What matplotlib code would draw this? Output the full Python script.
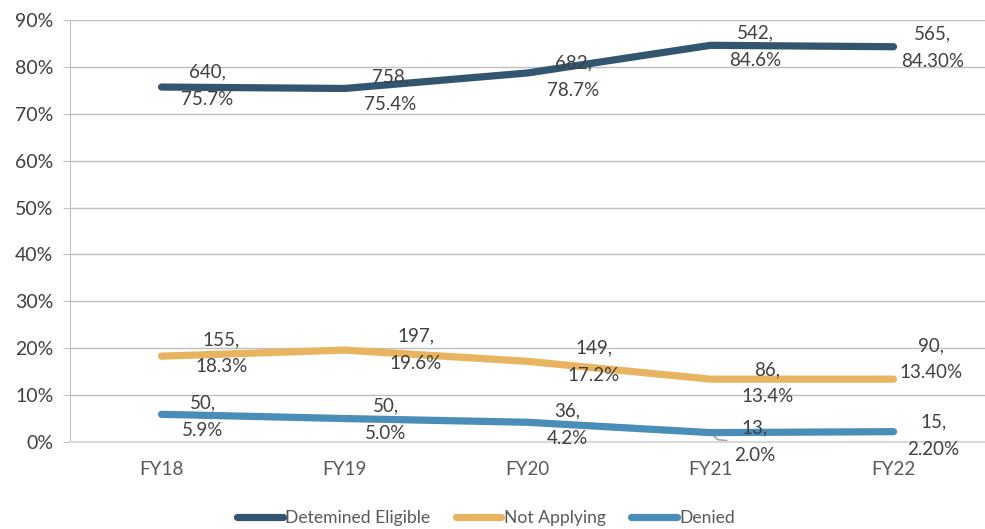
import matplotlib
matplotlib.use("Agg")
import matplotlib.pyplot as plt
from matplotlib.ticker import FuncFormatter

plt.rcParams['font.family'] = ['Lato', 'DejaVu Sans']

categories = ["FY18", "FY19", "FY20", "FY21", "FY22"]
series_names = ["Detemined Eligible", "Not Applying", "Denied"]
eligible_pct = [75.7, 75.4, 78.7, 84.6, 84.3]
not_applying_pct = [18.3, 19.6, 17.2, 13.4, 13.4]
denied_pct = [5.9, 5.0, 4.2, 2.0, 2.2]
eligible_labels = ["640,\n75.7%", "758,\n75.4%", "682,\n78.7%", "542,\n84.6%", "565,\n84.30%"]
not_applying_labels = ["155,\n18.3%", "197,\n19.6%", "149,\n17.2%", "86,\n13.4%", "90,\n13.40%"]
denied_labels = ["50,\n5.9%", "50,\n5.0%", "36,\n4.2%", "13,\n2.0%", "15,\n2.20%"]

colors = ["#325670", "#E8B460", "#4A8DB8"]

# label offsets in pixels (dx, dy) relative to each point
eligible_off = [(46, 1), (46, -2), (46, -4), (45, -1), (39, -1)]
not_applying_off = [(60, 3), (71, 0), (66, 0), (57, -4), (37, 20)]
denied_off = [(41, -2), (41, -1), (40, -2), (44, -9), (40, -4)]

fig = plt.figure(figsize=(9.85, 5.29), dpi=100)
ax = fig.add_axes([0.0711, 0.1645, 0.9289, 0.7977])

x = list(range(len(categories)))
all_vals = [eligible_pct, not_applying_pct, denied_pct]
all_labels = [eligible_labels, not_applying_labels, denied_labels]
all_offs = [eligible_off, not_applying_off, denied_off]

for name, vals, c in zip(series_names, all_vals, colors):
    ax.plot(x, vals, color=c, lw=5.2, solid_capstyle='round', solid_joinstyle='round', label=name, zorder=3)

for vals, labs, offs in zip(all_vals, all_labels, all_offs):
    for xi, v, lab, off in zip(x, vals, labs, offs):
        ax.annotate(lab, (xi, v), xytext=off, textcoords='offset pixels',
                    ha='center', va='center', fontsize=13.5, color='#404040',
                    linespacing=1.75, zorder=4)

ax.set_xlim(-0.5, 4.5)
ax.set_ylim(0, 90)
ax.set_yticks(range(0, 91, 10))
ax.yaxis.set_major_formatter(FuncFormatter(lambda v, p: f"{int(v)}%"))
ax.set_xticks(x)
ax.set_xticklabels(categories)
ax.grid(axis='y', color='#BFBFBF', lw=1.0)
ax.set_axisbelow(True)
for s in ['top', 'right']:
    ax.spines[s].set_visible(False)
ax.spines['left'].set_color('#BFBFBF')
ax.spines['bottom'].set_color('#D9D9D9')
ax.spines['bottom'].set_linewidth(1.5)
ax.tick_params(axis='y', length=5, color='#BFBFBF', labelsize=14, labelcolor='#404040', pad=7)
ax.tick_params(axis='x', length=0, labelsize=13.5, labelcolor='#595959', pad=14)

# leader line for FY21 denied label (pixel geometry relative to the data point)
px, py = ax.transData.transform((3, denied_pct[3]))
ax.plot([px, px + 7, px + 16], [py, py - 7, py - 8], color='#A6A6A6', lw=1.2,
        transform=None, zorder=2)

leg = fig.legend(loc='center', bbox_to_anchor=(0.4934, 0.021), ncol=3, frameon=False,
                 fontsize=12.6, handlelength=2.6, handletextpad=0.15, columnspacing=1.45,
                 borderpad=0, borderaxespad=0)
for t in leg.get_texts():
    t.set_color('#595959')

fig.savefig("out.png", dpi=100)
